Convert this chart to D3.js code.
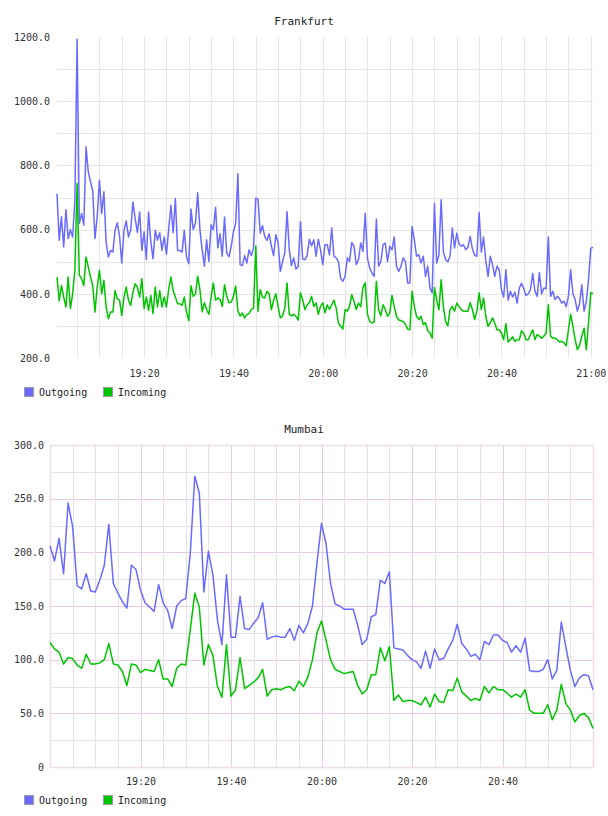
<!DOCTYPE html>
<html>
<head>
<meta charset="utf-8">
<script src="https://cdn.jsdelivr.net/npm/d3@7"></script>
<style>
  body { margin: 0; background: #fff; }
  svg text { font-family: "DejaVu Sans Mono", monospace; fill: #333; }
  .title { font-size: 11px; fill: #222; }
  .axis text { font-size: 10px; fill: #333; }
  .legend text { font-size: 10px; fill: #222; }
</style>
</head>
<body>
<svg id="chart" width="608" height="816"></svg>
<script>
// Frankfurt: one sample every 30 s from 19:00:30
const frankfurtOutgoing = [
  712, 567, 640, 546, 662, 572, 600, 577, 690, 1193,
  619, 650, 614, 858, 780, 749, 720, 572, 640, 754,
  650, 718, 560, 515, 535, 530, 598, 621, 580, 496,
  598, 627, 577, 600, 686, 634, 591, 655, 535, 593,
  507, 655, 562, 509, 598, 567, 590, 535, 577, 523,
  600, 676, 590, 697, 535, 535, 530, 598, 515, 494,
  664, 600, 620, 715, 600, 537, 486, 568, 501, 615,
  600, 670, 543, 587, 517, 639, 527, 515, 548, 594,
  620, 774, 491, 488, 519, 496, 537, 519, 543, 698,
  695, 589, 612, 579, 566, 587, 548, 519, 584, 560,
  470, 501, 527, 656, 537, 488, 512, 477, 486, 625,
  508, 506, 519, 570, 550, 568, 517, 570, 537, 491,
  553, 553, 521, 605, 517, 512, 500, 448, 439, 454,
  512, 501, 560, 548, 491, 506, 558, 532, 651, 512,
  480, 465, 454, 633, 486, 500, 553, 558, 500, 548,
  537, 577, 486, 470, 485, 512, 501, 434, 434, 610,
  568, 517, 522, 496, 517, 454, 486, 418, 403, 682,
  496, 520, 693, 532, 506, 500, 517, 605, 543, 589,
  556, 548, 553, 537, 545, 579, 540, 520, 517, 653,
  530, 577, 503, 454, 517, 491, 454, 486, 475, 413,
  390, 475, 380, 408, 390, 405, 371, 418, 433, 416,
  395, 400, 413, 463, 408, 392, 466, 400, 418, 416,
  577, 392, 408, 382, 392, 385, 371, 377, 360, 392,
  475, 400, 382, 346, 370, 428, 346, 376, 444, 542, 545
];
const frankfurtIncoming = [
  452, 378, 426, 390, 359, 452, 354, 400, 473, 744,
  458, 447, 426, 515, 484, 452, 426, 343, 421, 473,
  400, 442, 359, 322, 343, 343, 410, 385, 380, 333,
  390, 421, 380, 364, 405, 431, 421, 390, 447, 354,
  390, 348, 395, 338, 421, 359, 410, 359, 390, 359,
  413, 452, 410, 390, 369, 369, 364, 390, 343, 317,
  425, 392, 400, 455, 413, 344, 372, 351, 336, 390,
  434, 380, 387, 382, 361, 428, 392, 372, 374, 392,
  424, 346, 331, 340, 325, 335, 339, 351, 356, 548,
  346, 413, 390, 387, 408, 400, 351, 380, 400, 361,
  325, 331, 356, 434, 336, 331, 336, 330, 318, 403,
  382, 351, 365, 372, 392, 361, 372, 336, 361, 372,
  341, 366, 351, 366, 380, 356, 309, 299, 290, 351,
  346, 361, 397, 376, 351, 371, 360, 420, 434, 337,
  314, 309, 312, 439, 351, 332, 366, 351, 330, 340,
  395, 360, 330, 319, 316, 314, 305, 290, 288, 408,
  360, 330, 320, 330, 304, 310, 285, 278, 262, 420,
  382, 350, 444, 360, 314, 300, 351, 361, 346, 371,
  361, 351, 346, 346, 346, 372, 351, 320, 346, 403,
  351, 387, 330, 299, 309, 325, 309, 288, 288, 278,
  257, 307, 250, 257, 266, 252, 257, 257, 285, 276,
  257, 257, 273, 288, 257, 273, 268, 262, 268, 278,
  366, 268, 262, 262, 257, 250, 252, 247, 238, 288,
  336, 299, 257, 226, 240, 268, 293, 226, 309, 403, 401
];

// Mumbai: one sample per minute from 19:00
const mumbaiOutgoing = [
  206, 192, 213, 180, 246, 224, 169, 166, 180, 164,
  163, 174, 188, 226, 171, 162, 154, 148, 188, 184,
  165, 153, 149, 145, 170, 153, 146, 129, 150, 155,
  157, 199, 271, 255, 163, 201, 179, 137, 114, 179,
  121, 121, 159, 129, 128, 134, 139, 153, 119, 121,
  122, 121, 121, 129, 118, 132, 125, 134, 150, 190,
  227, 208, 171, 152, 150, 147, 147, 147, 132, 114,
  119, 140, 142, 174, 171, 182, 111, 110, 109, 104,
  100, 98, 92, 108, 92, 110, 100, 101, 110, 118,
  133, 115, 110, 103, 105, 100, 117, 114, 123, 123,
  118, 116, 107, 113, 107, 120, 90, 89, 89, 91,
  100, 82, 90, 135, 112, 90, 75, 83, 86, 85,
  72
];
const mumbaiIncoming = [
  116, 110, 107, 96, 102, 101, 95, 92, 105, 96,
  96, 97, 100, 115, 96, 95, 89, 76, 96, 95,
  88, 91, 90, 89, 100, 82, 82, 75, 92, 96,
  95, 128, 162, 149, 95, 114, 104, 75, 65, 114,
  66, 72, 102, 73, 76, 79, 83, 91, 66, 72,
  73, 72, 74, 75, 71, 80, 75, 84, 100, 125,
  136, 118, 100, 91, 89, 87, 88, 89, 76, 68,
  72, 86, 86, 111, 99, 112, 62, 67, 61, 62,
  62, 60, 58, 65, 56, 68, 61, 60, 72, 71,
  83, 70, 66, 62, 64, 62, 75, 69, 75, 72,
  72, 69, 65, 68, 65, 72, 53, 50, 50, 50,
  58, 44, 53, 77, 59, 53, 42, 48, 50, 46,
  36
];

const seriesNames = ['Outgoing', 'Incoming'];
const seriesColors = ['#6a6aff', '#00c400'];

const frankfurtYTicks = [200, 400, 600, 800, 1000, 1200];
const mumbaiYTicks = [0, 50, 100, 150, 200, 250, 300];
const frankfurtTimeLabels = ['19:20', '19:40', '20:00', '20:20', '20:40', '21:00'];
const mumbaiTimeLabels = ['19:20', '19:40', '20:00', '20:20', '20:40'];

const parseClock = s => {
    const [h, m, sec] = s.split(':').map(Number);
    return new Date(2020, 0, 1, h, m, sec || 0);
};

class TrafficChart {

    constructor(_config, _outgoing, _incoming) {
        this.config = _config;
        this.outgoing = _outgoing;
        this.incoming = _incoming;
        this.initVis();
    }

    initVis() {
        let vis = this;
        const c = vis.config;

        vis.width = c.right - c.left;
        vis.height = c.bottom - c.top;

        vis.svg = d3.select(c.parentElement);
        vis.g = vis.svg.append('g');

        const start = parseClock(c.start);
        vis.toSeries = values => values.map((v, i) => ({
            time: d3.timeSecond.offset(start, i * c.step),
            value: v
        }));
        vis.data = [vis.toSeries(vis.outgoing), vis.toSeries(vis.incoming)];

        const allTimes = vis.data[0].map(d => d.time);
        vis.xScale = d3.scaleTime()
            .domain(d3.extent(allTimes))
            .range([c.left, c.right]);

        vis.yScale = d3.scaleLinear()
            .domain(c.yDomain)
            .range([c.bottom, c.top]);

        vis.g.append('text')
            .attr('class', 'title')
            .attr('x', 304)
            .attr('y', c.titleY)
            .attr('text-anchor', 'middle')
            .text(c.title);

        vis.renderVis();
    }

    renderVis() {
        let vis = this;
        const c = vis.config;
        const grid = vis.g.append('g').attr('class', 'grid');

        // horizontal grid, every half label step
        const [y0, y1] = c.yDomain;
        const yGrid = d3.range(y0 + c.yGridStep, y1, c.yGridStep);
        grid.selectAll('.hgrid')
            .data(yGrid)
            .join('line')
            .attr('x1', c.left)
            .attr('x2', c.right)
            .attr('y1', d => Math.round(vis.yScale(d)) + 0.5)
            .attr('y2', d => Math.round(vis.yScale(d)) + 0.5)
            .attr('stroke', d => (c.majorColor && d % (2 * c.yGridStep) === 0) ? c.majorColor : c.minorColor);

        // vertical grid, every 5 minutes
        const [t0, t1] = vis.xScale.domain();
        const xGrid = d3.timeMinute.every(5).range(d3.timeSecond.offset(t0, 1), t1);
        grid.selectAll('.vgrid')
            .data(xGrid)
            .join('line')
            .attr('x1', d => Math.round(vis.xScale(d)) + 0.5)
            .attr('x2', d => Math.round(vis.xScale(d)) + 0.5)
            .attr('y1', c.top)
            .attr('y2', c.bottom)
            .attr('stroke', d => (c.majorColor && d.getMinutes() % 20 === 0) ? c.majorColor : c.minorColor);

        if (c.border) {
            grid.append('rect')
                .attr('x', c.left + 0.5)
                .attr('y', c.top + 0.5)
                .attr('width', vis.width)
                .attr('height', vis.height)
                .attr('fill', 'none')
                .attr('stroke', c.border)
                .attr('stroke-width', 1.5);
        }

        const yAxis = d3.axisLeft(vis.yScale)
            .tickValues(c.yTicks)
            .tickSize(0)
            .tickPadding(c.yPad)
            .tickFormat(d => d === 0 ? '0' : d.toFixed(1));

        const xAxis = d3.axisBottom(vis.xScale)
            .tickValues(c.timeLabels.map(s => parseClock(s)))
            .tickSize(0)
            .tickPadding(c.xPad)
            .tickFormat(d3.timeFormat('%H:%M'));

        const yAxisG = vis.g.append('g')
            .attr('class', 'axis')
            .attr('transform', `translate(${c.left},0)`)
            .call(yAxis);
        const xAxisG = vis.g.append('g')
            .attr('class', 'axis')
            .attr('transform', `translate(0,${c.bottom})`)
            .call(xAxis);
        [yAxisG, xAxisG].forEach(a => {
            a.attr('font-family', null).attr('font-size', null);
            a.select('.domain').remove();
        });

        const line = d3.line()
            .x(d => vis.xScale(d.time))
            .y(d => vis.yScale(d.value));

        vis.g.append('g')
            .selectAll('path')
            .data(vis.data)
            .join('path')
            .attr('fill', 'none')
            .attr('stroke', (d, i) => seriesColors[i])
            .attr('stroke-width', 1.5)
            .attr('stroke-linejoin', 'round')
            .attr('d', line);

        const legend = vis.g.append('g')
            .attr('class', 'legend')
            .attr('transform', `translate(24,${c.legendY})`);

        const items = legend.selectAll('g')
            .data(seriesNames)
            .join('g')
            .attr('transform', (d, i) => `translate(${i * 79},0)`);

        items.append('rect')
            .attr('x', 0.5)
            .attr('y', 0.5)
            .attr('width', 9)
            .attr('height', 9)
            .attr('fill', (d, i) => seriesColors[i])
            .attr('stroke', '#999');

        items.append('text')
            .attr('x', 15)
            .attr('y', 9)
            .text(d => d);
    }
}

new TrafficChart({
    parentElement: '#chart',
    title: 'Frankfurt',
    titleY: 25,
    left: 57, right: 593, top: 37, bottom: 358,
    start: '19:00:30', step: 30,
    yDomain: [200, 1200],
    yTicks: frankfurtYTicks,
    yGridStep: 100,
    timeLabels: frankfurtTimeLabels,
    minorColor: '#e6e6e6',
    majorColor: null,
    border: null,
    yPad: 7, xPad: 12,
    legendY: 387
}, frankfurtOutgoing, frankfurtIncoming);

new TrafficChart({
    parentElement: '#chart',
    title: 'Mumbai',
    titleY: 433,
    left: 50, right: 593, top: 445, bottom: 767,
    start: '19:00:00', step: 60,
    yDomain: [0, 300],
    yTicks: mumbaiYTicks,
    yGridStep: 25,
    timeLabels: mumbaiTimeLabels,
    minorColor: '#e4e4e4',
    majorColor: '#e6cce6',
    border: '#ecdcec',
    yPad: 6, xPad: 11,
    legendY: 795
}, mumbaiOutgoing, mumbaiIncoming);
</script>
</body>
</html>
